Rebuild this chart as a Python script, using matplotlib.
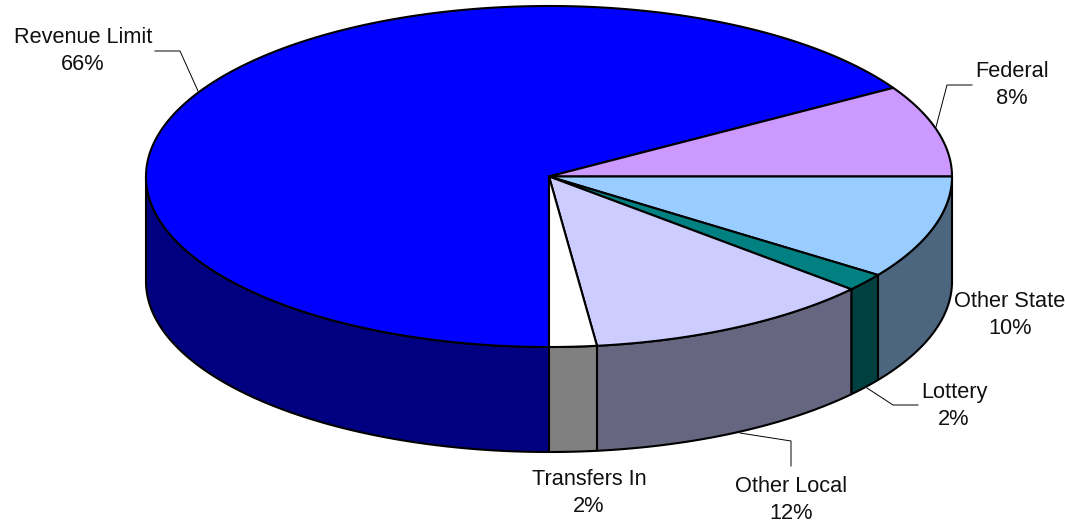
import numpy as np
import matplotlib
matplotlib.use('Agg')
import matplotlib.pyplot as plt

plt.rcParams['font.family'] = ['Liberation Sans', 'DejaVu Sans']

# slice order: clockwise, starting at the 6 o'clock position
categories = ['Revenue Limit', 'Federal', 'Other State', 'Lottery', 'Other Local', 'Transfers In']
shares = [66.3, 8.7, 9.8, 1.7, 11.6, 1.9]
percent_labels = ['66%', '8%', '10%', '2%', '12%', '2%']

top_colors = ['#0000FF', '#CC99FF', '#99CCFF', '#008080', '#CCCCFF', '#FFFFFF']
side_colors = ['#000080', '#664C80', '#4C6680', '#004040', '#666680', '#808080']

# label centres and leader lines, in pixels
label_pos = [(83, 51), (1012, 85), (1010, 315), (954, 406), (791, 500), (589, 493)]
leaders = {
    'Revenue Limit': [(155, 51), (180, 51), (198, 91)],
    'Federal': [(972, 85), (947, 85), (936, 127)],
    'Lottery': [(918, 405), (893, 405), (867, 388)],
    'Other Local': [(791, 466), (791, 441), (740, 433)],
}

cx, cy = 549, 176.5
rx, ry = 403, 170.5
depth = 105


def arc(a0, a1, drop=0):
    # angles in degrees, clockwise from 12 o'clock
    t = np.radians(np.linspace(a0, a1, max(int(abs(a1 - a0) * 4), 2)))
    return cx + rx * np.sin(t), cy - ry * np.cos(t) + drop


fig = plt.figure(figsize=(10.65, 5.22), dpi=100)
ax = fig.add_axes([0, 0, 1, 1])
ax.set_xlim(0, 1065)
ax.set_ylim(522, 0)
ax.axis('off')

edges = 180 + np.cumsum([0] + shares) * 3.6

# side walls, only the front half of the pie shows one
for i in range(len(shares)):
    for lo, hi in [(90, 270), (450, 630)]:
        a0 = max(edges[i], lo)
        a1 = min(edges[i + 1], hi)
        if a1 <= a0:
            continue
        x, y = arc(a0, a1)
        xb, yb = arc(a1, a0, depth)
        ax.fill(np.r_[x, xb], np.r_[y, yb], facecolor=side_colors[i], edgecolor='black',
                linewidth=1.5, joinstyle='round', zorder=2)

# top face
for i in range(len(shares)):
    x, y = arc(edges[i], edges[i + 1])
    ax.fill(np.r_[cx, x], np.r_[cy, y], facecolor=top_colors[i], edgecolor='black',
            linewidth=1.5, joinstyle='round', zorder=3)

for name, pct, pos in zip(categories, percent_labels, label_pos):
    ax.text(pos[0], pos[1], name + '\n' + pct, ha='center', va='center', fontsize=15.7,
            color='#111111', linespacing=1.36, zorder=5)

for pts in leaders.values():
    ax.plot([p[0] for p in pts], [p[1] for p in pts], color='black', linewidth=0.7, zorder=4)

fig.savefig('out.png', dpi=100, facecolor='white')
